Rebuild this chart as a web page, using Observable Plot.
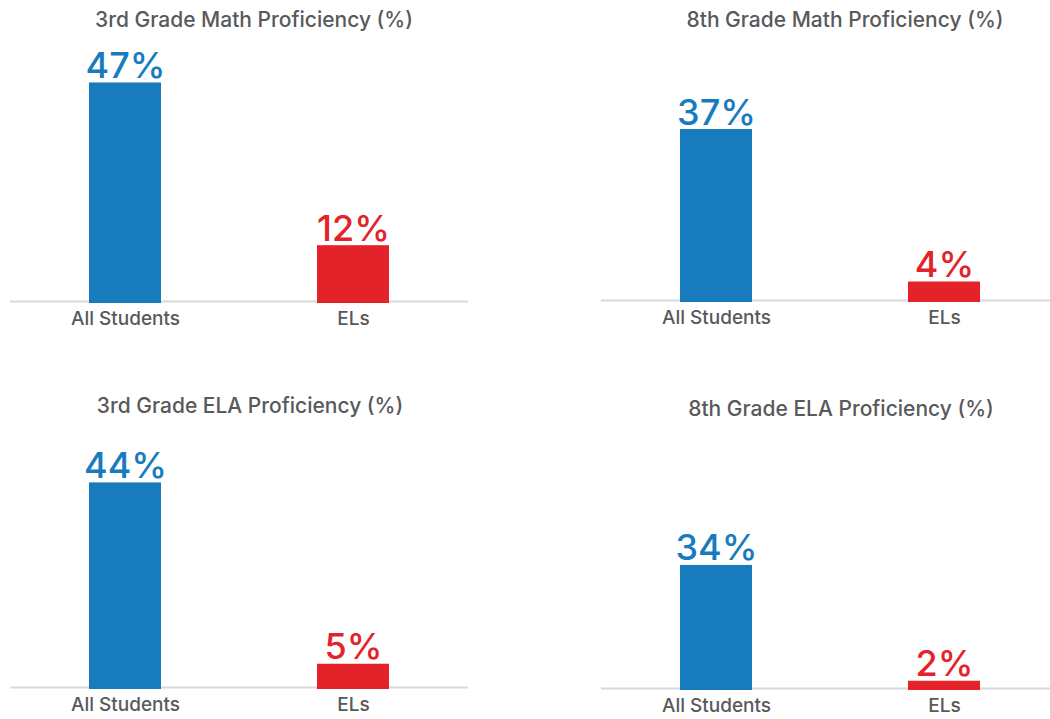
<!DOCTYPE html>
<html>
<head>
<meta charset="utf-8">
<script src="https://cdn.jsdelivr.net/npm/d3@7"></script>
<script src="https://cdn.jsdelivr.net/npm/@observablehq/plot@0.6"></script>
<style>
  html, body { margin: 0; padding: 0; background: #fff; overflow: hidden; }
  #root { position: relative; width: 1050px; height: 719px; overflow: hidden; font-family: Inter, sans-serif; }
  .panel { position: absolute; width: 478px; }
  .panel svg { max-width: none !important; }
  .title { position: absolute; width: 500px; text-align: center; font-size: 21px; font-weight: 500; line-height: 21px; color: #58595b; white-space: nowrap; }
</style>
</head>
<body>
<div id="root"></div>
<script>
const titles = ["3rd Grade Math Proficiency (%)", "8th Grade Math Proficiency (%)", "3rd Grade ELA Proficiency (%)", "8th Grade ELA Proficiency (%)"];
const groups = ["All Students", "ELs"];
const allStudents = [47, 37, 44, 34];
const els = [12, 4, 5, 2];
const colors = ["#177bbd", "#e42229"];

// layout per panel
const layout = [
  {left: 0,   top: 0,   h: 340, baseline: 301, k: 4.65, tcx: 254, tbase: 28},
  {left: 591, top: 0,   h: 340, baseline: 300, k: 4.62, tcx: 845, tbase: 28},
  {left: 0,   top: 380, h: 339, baseline: 687, k: 4.65, tcx: 250, tbase: 414},
  {left: 591, top: 380, h: 339, baseline: 688, k: 3.62, tcx: 841, tbase: 417}
];

const root = document.getElementById("root");
const yMax = 50;

titles.forEach((t, i) => {
  const L = layout[i];
  const data = groups.map((g, j) => ({group: g, value: j === 0 ? allStudents[i] : els[i], color: colors[j]}));
  const inner = yMax * L.k;
  const marginTop = L.baseline - L.top - inner;
  const marginBottom = L.top + L.h - L.baseline;
  const chart = Plot.plot({
    width: 478,
    height: L.h,
    marginLeft: 10,
    marginRight: 10,
    marginTop,
    marginBottom,
    style: {color: "#58595b", fontFamily: "Inter, sans-serif", background: "transparent", overflow: "visible", maxWidth: "none"},
    x: {domain: groups, paddingInner: 0.684, paddingOuter: 0.346, axis: null},
    y: {domain: [0, yMax], axis: null},
    marks: [
      Plot.ruleY([0], {stroke: "#d9d9d9", strokeWidth: 2}),
      Plot.barY(data, {x: "group", y: "value", fill: "color", insetBottom: -2}),
      Plot.text(data, {x: "group", y: "value", text: d => d.value + "%", fill: "color", fontSize: 36, fontWeight: 500, lineAnchor: "bottom", dy: -5}),
      Plot.axisX({tickSize: 0, tickPadding: 10, fontSize: 19, fontWeight: 500, fill: "#58595b", label: null})
    ]
  });
  const div = document.createElement("div");
  div.className = "panel";
  div.style.left = L.left + "px";
  div.style.top = L.top + "px";
  div.appendChild(chart);
  root.appendChild(div);

  const td = document.createElement("div");
  td.className = "title";
  td.textContent = t;
  td.style.left = (L.tcx - 250) + "px";
  td.style.top = (L.tbase - 19) + "px";
  root.appendChild(td);
});
</script>
</body>
</html>
